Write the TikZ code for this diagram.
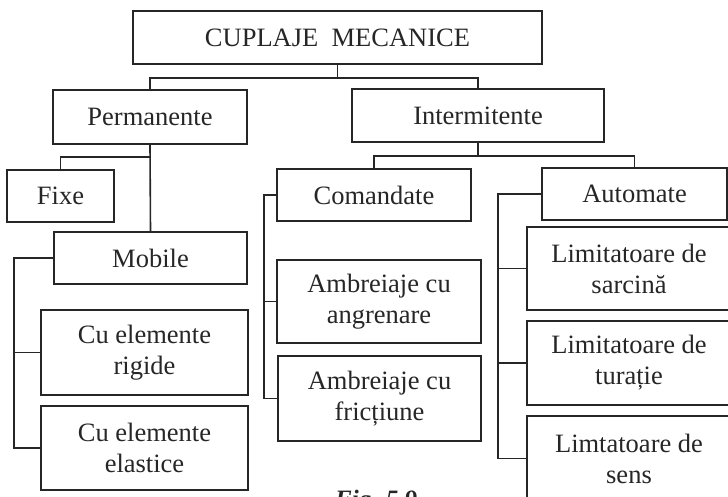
\documentclass[tikz,border=0pt]{standalone}
\usepackage{fontspec}
\setmainfont{Liberation Serif}
\definecolor{ink}{HTML}{262626}
\begin{document}
\begin{tikzpicture}[x=1pt,y=-1pt,
  box/.style={draw=ink, line width=1.6pt, rectangle, inner sep=0pt, align=center,
    text=ink, font=\fontsize{26.5}{31}\selectfont},
  link/.style={draw=ink, line width=1.6pt}]
\useasboundingbox (0,0) rectangle (728,496);
\clip (0,0) rectangle (728,496);
\fill[white] (0,0) rectangle (728,496);

% level 0 and 1
\node[box, minimum width=409pt, minimum height=53pt] (top) at (337.5,37.5) {CUPLAJE\ \ MECANICE};
\node[box, minimum width=194pt, minimum height=54pt] (perm) at (150,117) {Permanente};
\node[box, minimum width=252pt, minimum height=53pt] (inter) at (478,115.5) {Intermitente};

% permanent couplings
\node[box, minimum width=107pt, minimum height=52pt] (fixe) at (60.5,196) {Fixe};
\node[box, minimum width=193pt, minimum height=52pt] (mobile) at (150.5,258) {Mobile};
\node[box, minimum width=207pt, minimum height=85pt] (rigide) at (144.5,352.5) {Cu elemente\\rigide};
\node[box, minimum width=207pt, minimum height=84pt] (elastice) at (144.5,448) {Cu elemente\\elastice};

% intermittent couplings
\node[box, minimum width=194pt, minimum height=52pt] (comandate) at (374,195) {Comandate};
\node[box, minimum width=185pt, minimum height=52pt] (automate) at (634.5,194) {Automate};
\node[box, minimum width=204pt, minimum height=83pt] (angrenare) at (379,301.5) {Ambreiaje cu\\angrenare};
\node[box, minimum width=203pt, minimum height=85pt] (frictiune) at (379.5,398.5) {Ambreiaje cu\\fricțiune};
\node[box, minimum width=204pt, minimum height=83pt] (sarcina) at (629,268.5) {Limitatoare de\\sarcină};
\node[box, minimum width=204pt, minimum height=84pt] (turatie) at (629,363) {Limitatoare de\\turație};
\node[box, minimum width=204pt, minimum height=85pt] (sens) at (629,458.5) {Limtatoare de\\sens};

% caption, running off the lower edge
\node[anchor=base west, inner sep=0pt, text=ink, font=\fontsize{25}{28}\selectfont\bfseries\itshape] (caption) at (335,507) {Fig. 5.9};

% connectors
\path (top.south) ++(0,13) coordinate (j0);
\draw[link] (top.south) -- (j0);
\draw[link] (perm.north) |- (j0) -| (inter.north);

\path (perm.south) ++(0,12) coordinate (j1);
\draw[link] (perm.south) -- (mobile.north);
\draw[link] (fixe.north) |- (j1);

\path (inter.south) ++(0,13) coordinate (j2);
\draw[link] (inter.south) -- (j2);
\draw[link] (comandate.north) |- (j2) -| (automate.north);

\draw[link] (mobile.west) -- ++(-39,0) coordinate (b1) |- (elastice.west);
\draw[link] (b1 |- rigide.west) -- (rigide.west);

\draw[link] (comandate.west) -- ++(-12,0) coordinate (b2) |- (frictiune.west);
\draw[link] (b2 |- angrenare.west) -- (angrenare.west);

\draw[link] (automate.west) -- ++(-43,0) coordinate (b3) |- (sens.west);
\draw[link] (b3 |- sarcina.west) -- (sarcina.west);
\draw[link] (b3 |- turatie.west) -- (turatie.west);
\end{tikzpicture}
\end{document}
